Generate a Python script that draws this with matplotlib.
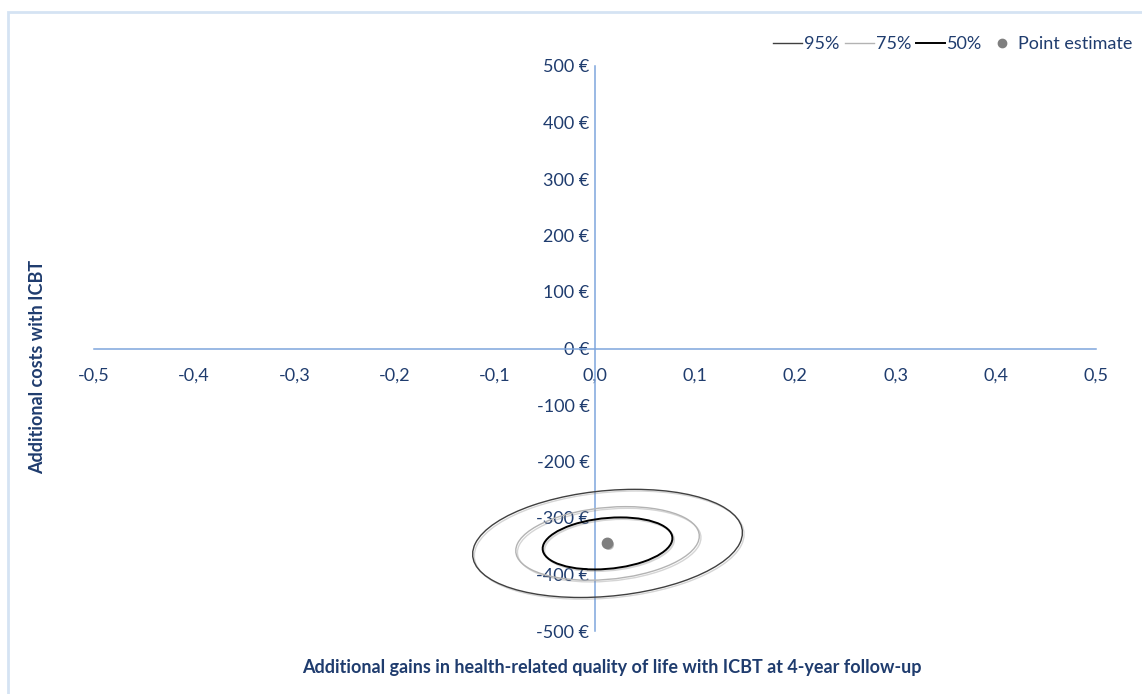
import numpy as np
import matplotlib
matplotlib.use("Agg")
import matplotlib.pyplot as plt
from matplotlib.patches import Ellipse, Rectangle
from matplotlib.lines import Line2D
import matplotlib.patheffects as pe

# incremental effect (QALY) and cost (EUR) of ICBT at 4-year follow-up
point_effect = 0.0125
point_cost = -345.0
sd_effect = 0.055
sd_cost = 39.1
corr = 0.20

# confidence regions and their chi-square (2 df) cut-offs
levels = ["95%", "75%", "50%"]
chi2_cut = [5.991, 2.773, 1.386]
level_colors = ["#404040", "#b3b3b3", "#000000"]
level_widths = [1.0, 1.0, 1.4]

x_ticks = [-0.5, -0.4, -0.3, -0.2, -0.1, 0.0, 0.1, 0.2, 0.3, 0.4, 0.5]
y_ticks = [-500, -400, -300, -200, -100, 0, 100, 200, 300, 400, 500]

text_col = "#1f3c6e"
axis_col = "#7ea6dc"

plt.rcParams['font.family'] = ['Lato', 'DejaVu Sans']

fig = plt.figure(figsize=(11.42, 6.94), dpi=100)
ax = fig.add_axes([94/1142, 63/694, 1002/1142, 565/694])

cov = np.array([[sd_effect**2, corr*sd_effect*sd_cost],
                [corr*sd_effect*sd_cost, sd_cost**2]])
vals, vecs = np.linalg.eigh(cov)
angle = np.degrees(np.arctan2(vecs[1, 1], vecs[0, 1]))

for lab, c2, col, lw in zip(levels, chi2_cut, level_colors, level_widths):
    w = 2*np.sqrt(c2*vals[1])
    h = 2*np.sqrt(c2*vals[0])
    e = Ellipse((point_effect, point_cost), w, h, angle=angle, fill=False,
                edgecolor=col, linewidth=lw, zorder=3)
    e.set_path_effects([pe.SimpleLineShadow(offset=(1.2, -1.2), shadow_color="#888888", alpha=0.35), pe.Normal()])
    ax.add_patch(e)

ax.scatter([point_effect], [point_cost], s=55, color="#7f7f7f", zorder=4,
           path_effects=[pe.SimplePatchShadow(offset=(1, -1), alpha=0.3), pe.Normal()])

ax.set_xlim(-0.5, 0.5)
ax.set_ylim(-500, 500)
ax.set_xticks(x_ticks)
ax.set_yticks(y_ticks)
ax.set_xticklabels([("%.1f" % v).replace(".", ",") for v in x_ticks])
ax.set_yticklabels(["%d €" % v for v in y_ticks])

for s in ["top", "right"]:
    ax.spines[s].set_visible(False)
ax.spines["left"].set_position(("data", 0))
ax.spines["bottom"].set_position(("data", 0))
for s in ["left", "bottom"]:
    ax.spines[s].set_color(axis_col)
    ax.spines[s].set_linewidth(1.1)
    ax.spines[s].set_zorder(2)
ax.tick_params(axis="x", length=0, pad=14, labelsize=13, labelcolor=text_col)
ax.tick_params(axis="y", length=0, pad=4, labelsize=13, labelcolor=text_col)
ax.patch.set_visible(False)

fig.text(612/1142, 1 - 668/694, "Additional gains in health-related quality of life with ICBT at 4-year follow-up",
         ha="center", va="center", fontsize=13, fontweight="bold", color=text_col)
fig.text(38/1142, 1 - 367/694, "Additional costs with ICBT", rotation=90,
         ha="center", va="center", fontsize=13, fontweight="bold", color=text_col)

handles = [Line2D([], [], color=c, lw=w) for c, w in zip(level_colors, level_widths)]
handles.append(Line2D([], [], color="#7f7f7f", marker="o", linestyle="none", markersize=6))
leg = fig.legend(handles, levels + ["Point estimate"], loc="center right",
                 bbox_to_anchor=(1140/1142, 1 - 44/694), ncol=4, frameon=False,
                 handlelength=1.6, handletextpad=0.1, columnspacing=0.3,
                 fontsize=13, labelcolor=text_col, borderaxespad=0)

# thin light border along the top and left edges
fig.patches.append(Rectangle((8/1142, -0.1), 1.2, 1 - 12/694 + 0.1, transform=fig.transFigure,
                             fill=False, edgecolor="#d5e3f3", linewidth=2))

fig.savefig("out.png", dpi=100)
